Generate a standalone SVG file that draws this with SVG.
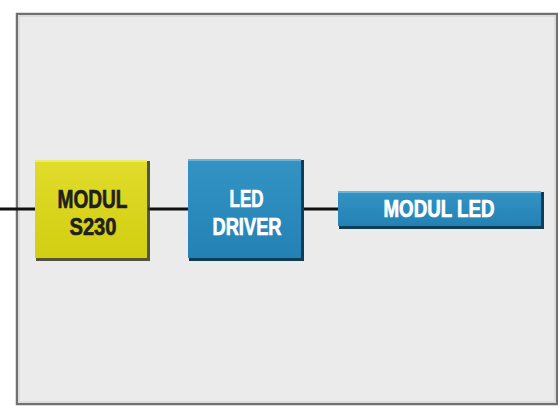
<svg xmlns="http://www.w3.org/2000/svg" width="558" height="406" viewBox="0 0 558 406">
<defs>
<linearGradient id="gy" x1="0" y1="0" x2="0" y2="1">
<stop offset="0" stop-color="#e0dc2a"/><stop offset="1" stop-color="#d2ce12"/>
</linearGradient>
<linearGradient id="gb" x1="0" y1="0" x2="0" y2="1">
<stop offset="0" stop-color="#3394c4"/><stop offset="1" stop-color="#2481b4"/>
</linearGradient>
</defs>
<style>
.t{font-family:"Liberation Sans",Arial,sans-serif;font-weight:bold;text-anchor:middle;stroke-width:0.7}
.dk{fill:#1f1f1f;stroke:#1f1f1f}
.wh{fill:#ffffff;stroke:#ffffff}
.ln{stroke:#111;stroke-width:3;fill:none}
.sh{fill:#3a3a1a;opacity:0.85}
.shb{fill:#0d3d58}
</style>
<rect width="558" height="406" fill="#ffffff"/>
<rect x="17" y="14" width="540" height="390" fill="#ebebeb" stroke="#707070" stroke-width="2.5"/>
<rect x="19" y="16" width="536" height="386" fill="none" stroke="#dcdcdc" stroke-width="2"/>
<g id="connectors">
<line class="ln" x1="0" y1="209" x2="36" y2="209"/>
<line class="ln" x1="148" y1="209" x2="189" y2="209"/>
<line class="ln" x1="302" y1="209" x2="339" y2="209"/>
</g>
<g id="modul-s230">
<rect class="sh" x="36" y="161" width="114" height="100"/>
<rect x="35" y="160" width="112" height="98" fill="url(#gy)"/>
<rect x="35" y="160" width="112" height="2" fill="#ecea70"/>
<text class="t dk" x="92.5" y="208" font-size="25" textLength="70" lengthAdjust="spacingAndGlyphs">MODUL</text>
<text class="t dk" x="93" y="235" font-size="24.5" textLength="47" lengthAdjust="spacingAndGlyphs">S230</text>
</g>
<g id="led-driver">
<rect class="shb" x="189" y="160" width="115" height="101"/>
<rect x="188" y="159" width="113" height="99" fill="url(#gb)"/>
<rect x="188" y="159" width="113" height="2" fill="#6cb4da"/>
<text class="t wh" x="246.5" y="207" font-size="24" textLength="34" lengthAdjust="spacingAndGlyphs">LED</text>
<text class="t wh" x="247" y="235" font-size="24.5" textLength="69" lengthAdjust="spacingAndGlyphs">DRIVER</text>
</g>
<g id="modul-led">
<rect class="shb" x="339" y="192" width="205" height="37"/>
<rect x="338" y="191" width="203" height="35" fill="url(#gb)"/>
<rect x="338" y="191" width="203" height="2" fill="#6cb4da"/>
<text class="t wh" x="439" y="217" font-size="23" textLength="111" lengthAdjust="spacingAndGlyphs">MODUL LED</text>
</g>
</svg>
